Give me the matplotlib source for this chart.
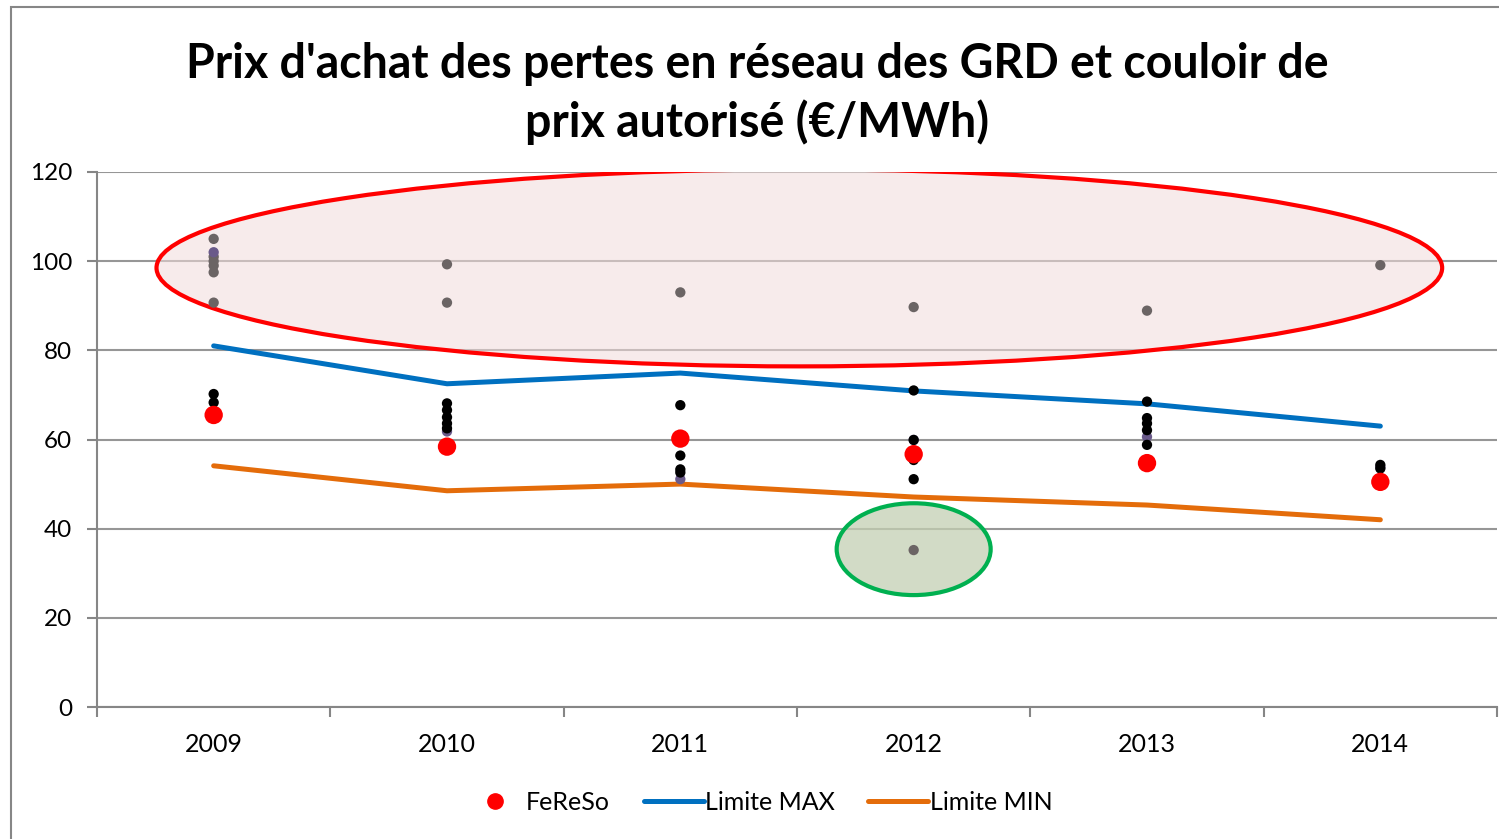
import matplotlib
matplotlib.use("Agg")
import matplotlib.pyplot as plt
from matplotlib.patches import Ellipse, Rectangle
from matplotlib.lines import Line2D

plt.rcParams["font.family"] = ["Lato", "DejaVu Sans"]

YEARS = [2009, 2010, 2011, 2012, 2013, 2014]
LIMITE_MAX = [81.0, 72.5, 74.9, 70.9, 68.0, 63.0]
LIMITE_MIN = [54.1, 48.5, 50.0, 47.1, 45.3, 42.0]
FERESO = [65.5, 58.4, 60.2, 56.7, 54.7, 50.5]

# autres GRD, hors couloir (points gris)
GRAY_X = [2009, 2009, 2009, 2009, 2009, 2009, 2010, 2010, 2011, 2012, 2012, 2013, 2014]
GRAY_Y = [105.0, 101.0, 100.0, 99.0, 97.5, 90.7, 99.3, 90.7, 93.0, 89.7, 35.2, 88.9, 99.1]

# autres GRD, dans le couloir (points noirs)
BLACK_X = [2009, 2009, 2010, 2010, 2010, 2010, 2010, 2011, 2011, 2011, 2011,
           2012, 2012, 2012, 2012, 2013, 2013, 2013, 2013, 2013, 2014, 2014]
BLACK_Y = [70.2, 68.3, 68.1, 66.6, 65.0, 63.6, 62.5, 67.7, 56.4, 53.3, 52.6,
           71.0, 59.9, 55.4, 51.1, 68.5, 64.8, 63.6, 62.1, 58.8, 54.3, 53.5]

PURPLE_X = [2009, 2010, 2011, 2012, 2013, 2014]
PURPLE_Y = [102.0, 61.8, 51.1, 59.9, 60.6, 53.8]

TITLE_1 = "Prix d'achat des pertes en réseau des GRD et couloir de"
TITLE_2 = "prix autorisé (€/MWh)"

fig = plt.figure(figsize=(14.99, 8.39), dpi=100)
fig.patches.append(Rectangle((11 / 1499, -0.1), 1.2, 1 - 7 / 839 + 0.1,
                             transform=fig.transFigure, fill=False,
                             edgecolor="#868686", lw=1.5, zorder=0))

ax = fig.add_axes([97 / 1499, 132 / 839, 1400 / 1499, 535 / 839])
ax.set_xlim(2008.5, 2014.5)
ax.set_ylim(0, 120)

ax.add_patch(Ellipse((2011.51, 98.5), 5.51, 44.2, facecolor="#f2dcdb", alpha=0.55,
                     edgecolor="none", zorder=1))
ax.add_patch(Ellipse((2011.51, 98.5), 5.51, 44.2, facecolor="none",
                     edgecolor="#ff0000", lw=3, zorder=4))
ax.add_patch(Ellipse((2012.0, 35.4), 0.66, 20.6, facecolor="#c4d0b3", alpha=0.75,
                     edgecolor="none", zorder=1))
ax.add_patch(Ellipse((2012.0, 35.4), 0.66, 20.6, facecolor="none",
                     edgecolor="#00b050", lw=3, zorder=4))

ax.plot(YEARS, LIMITE_MAX, color="#0070c0", lw=3.6, solid_capstyle="round", zorder=3)
ax.plot(YEARS, LIMITE_MIN, color="#e46c0a", lw=3.6, solid_capstyle="round", zorder=3)
ax.scatter(GRAY_X, GRAY_Y, s=55, color="#6b6464", edgecolors="none", zorder=5)
ax.scatter(PURPLE_X, PURPLE_Y, s=55, color="#6a5a8a", edgecolors="none", zorder=5)
ax.scatter(BLACK_X, BLACK_Y, s=55, color="black", edgecolors="none", zorder=6)
ax.scatter(YEARS, FERESO, s=175, color="#ff0000", edgecolors="none", zorder=7)

ax.set_yticks(range(0, 121, 20))
ax.yaxis.grid(True, color="#969696", lw=1.5)
ax.set_axisbelow(True)
ax.set_xticks([y + 0.5 for y in [2008] + YEARS])
ax.set_xticklabels([])
ax.set_xticks(YEARS, minor=True)
ax.set_xticklabels([str(y) for y in YEARS], minor=True)
ax.tick_params(axis="x", which="minor", length=0, pad=19, labelsize=18)
ax.tick_params(axis="x", which="major", length=7, width=1.5, color="#868686")
ax.tick_params(axis="y", length=7, width=1.5, color="#868686", pad=11, labelsize=17.5)
for side in ["top", "right"]:
    ax.spines[side].set_visible(False)
for side in ["left", "bottom"]:
    ax.spines[side].set_color("#868686")
    ax.spines[side].set_linewidth(1.5)

fig.text(0.505, 1 - 78 / 839, TITLE_1, ha="center", va="baseline", fontsize=33.5,
         fontweight="bold")
fig.text(0.505, 1 - 137 / 839, TITLE_2, ha="center", va="baseline", fontsize=33.5,
         fontweight="bold")

handles = [
    Line2D([], [], marker="o", color="#ff0000", ls="none", markersize=11),
    Line2D([], [], color="#0070c0", lw=3.6, solid_capstyle="round"),
    Line2D([], [], color="#e46c0a", lw=3.6, solid_capstyle="round"),
]
fig.legend(handles, ["FeReSo", "Limite MAX", "Limite MIN"], loc="center",
           bbox_to_anchor=(0.506, 0.044), ncol=3, frameon=False, fontsize=18,
           handlelength=2.4, handletextpad=0.05, columnspacing=1.35)

fig.savefig("out.png", dpi=100)
